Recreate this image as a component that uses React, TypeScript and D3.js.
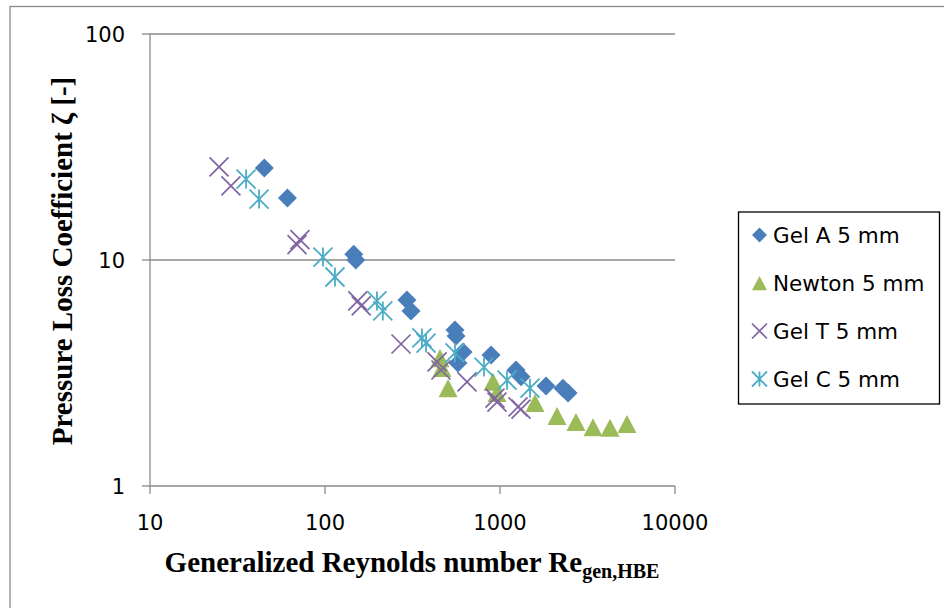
import React from "react";
import * as d3 from "d3";

const gelA_Re = [45, 61, 146, 150, 294, 310, 553, 561, 615, 575, 889, 1234, 1318, 1832, 2290, 2448];
const gelA_Z = [25.5, 18.8, 10.6, 10.0, 6.65, 5.95, 4.9, 4.61, 3.92, 3.5, 3.8, 3.26, 3.04, 2.77, 2.71, 2.58];

const newton_Re = [454, 466, 505, 912, 961, 1585, 2118, 2718, 3399, 4252, 5316];
const newton_Z = [3.68, 3.33, 2.71, 2.89, 2.58, 2.33, 2.04, 1.92, 1.82, 1.81, 1.88];

const gelT_Re = [24.8, 29.0, 71.9, 69.2, 154, 161, 272, 437, 460, 648, 936, 961, 1267, 1318];
const gelT_Z = [25.8, 21.3, 12.3, 11.7, 6.59, 6.26, 4.25, 3.54, 3.26, 2.89, 2.45, 2.35, 2.24, 2.19];

const gelC_Re = [35.4, 42.0, 97.4, 114, 198, 214, 358, 378, 553, 810, 1097, 1484];
const gelC_Z = [22.8, 18.6, 10.3, 8.41, 6.59, 5.95, 4.52, 4.29, 3.88, 3.36, 2.94, 2.71];

const xTicks = [10, 100, 1000, 10000];
const yTicks = [1, 10, 100];
const seriesNames = ["Gel A 5 mm", "Newton 5 mm", "Gel T 5 mm", "Gel C 5 mm"];

const BLUE = "#4A7EBB";
const GREEN = "#9BBB59";
const PURPLE = "#8064A2";
const TEAL = "#4BACC6";
const GRID = "#8A8A8A";

const left = 150, right = 675, top = 34, bottom = 486;
const x = d3.scaleLog().domain([10, 10000]).range([left, right]);
const y = d3.scaleLog().domain([1, 100]).range([bottom, top]);

type Kind = "diamond" | "triangle" | "x" | "star";

function Marker({ kind, cx, cy, s }: { kind: Kind; cx: number; cy: number; s: number }) {
  const h = s / 2;
  if (kind === "diamond") {
    return <path d={`M${cx},${cy - h}L${cx + h},${cy}L${cx},${cy + h}L${cx - h},${cy}Z`} fill={BLUE} />;
  }
  if (kind === "triangle") {
    const th = s * 0.95;
    return (
      <path
        d={`M${cx},${cy - th / 2}L${cx + h},${cy + th / 2}L${cx - h},${cy + th / 2}Z`}
        fill={GREEN}
      />
    );
  }
  if (kind === "x") {
    return (
      <path
        d={`M${cx - h},${cy - h}L${cx + h},${cy + h}M${cx - h},${cy + h}L${cx + h},${cy - h}`}
        stroke={PURPLE}
        strokeWidth={1.7}
        fill="none"
      />
    );
  }
  return (
    <path
      d={`M${cx - h},${cy - h}L${cx + h},${cy + h}M${cx - h},${cy + h}L${cx + h},${cy - h}M${cx},${cy - h}L${cx},${cy + h}`}
      stroke={TEAL}
      strokeWidth={1.8}
      fill="none"
    />
  );
}

const series: { re: number[]; z: number[]; kind: Kind }[] = [
  { re: gelA_Re, z: gelA_Z, kind: "diamond" },
  { re: newton_Re, z: newton_Z, kind: "triangle" },
  { re: gelT_Re, z: gelT_Z, kind: "x" },
  { re: gelC_Re, z: gelC_Z, kind: "star" },
];

export default function App() {
  const sans = "DejaVu Sans";
  const serif = "Liberation Serif, Times New Roman, serif";
  return (
    <svg
      width={944}
      height={608}
      style={{ position: "absolute", left: 0, top: 0, background: "#fff" }}
    >
      <rect x={0} y={0} width={944} height={608} fill="#fff" />
      {/* chart area border */}
      <rect x={10} y={6.5} width={960} height={640} fill="none" stroke={GRID} strokeWidth={1.3} />

      {/* gridlines */}
      {yTicks.filter((t) => t !== 1).map((t) => (
        <line key={t} x1={left} x2={right} y1={y(t)} y2={y(t)} stroke={GRID} strokeWidth={1.3} />
      ))}
      {/* axes */}
      <line x1={left} x2={left} y1={top} y2={bottom} stroke={GRID} strokeWidth={1.3} />
      <line x1={left} x2={right} y1={bottom} y2={bottom} stroke={GRID} strokeWidth={1.3} />
      {yTicks.map((t) => (
        <g key={"y" + t}>
          <line x1={left - 8} x2={left} y1={y(t)} y2={y(t)} stroke={GRID} strokeWidth={1.3} />
          <text x={125} y={y(t) + 7.5} textAnchor="end" fontFamily={sans} fontSize={21} fill="#000">
            {t}
          </text>
        </g>
      ))}
      {xTicks.map((t) => (
        <g key={"x" + t}>
          <line x1={x(t)} x2={x(t)} y1={bottom} y2={bottom + 8} stroke={GRID} strokeWidth={1.3} />
          <text x={x(t)} y={530} textAnchor="middle" fontFamily={sans} fontSize={21} fill="#000">
            {t}
          </text>
        </g>
      ))}

      {/* axis titles */}
      <text
        transform="translate(72,261) rotate(-90)"
        textAnchor="middle"
        fontFamily={serif}
        fontWeight="bold"
        fontSize={29}
        fill="#000"
      >
        Pressure Loss Coefficient ζ [-]
      </text>
      <text x={412} y={572} textAnchor="middle" fontFamily={serif} fontWeight="bold" fontSize={29} fill="#000">
        Generalized Reynolds number Re
        <tspan fontSize={20} dy={6}>
          gen,HBE
        </tspan>
      </text>

      {/* data */}
      {series.map((s, si) => (
        <g key={si}>
          {s.re.map((r, i) => (
            <Marker key={i} kind={s.kind} cx={x(r)} cy={y(s.z[i])} s={19} />
          ))}
        </g>
      ))}

      {/* legend */}
      <rect x={738.5} y={212} width={201} height={192} fill="#fff" stroke="#000" strokeWidth={1.3} />
      {seriesNames.map((n, i) => {
        const cy = 235 + i * 48;
        return (
          <g key={n}>
            <Marker kind={series[i].kind} cx={759.5} cy={cy} s={15} />
            <text x={773} y={cy + 7.7} fontFamily={sans} fontSize={21.5} fill="#000">
              {n}
            </text>
          </g>
        );
      })}
    </svg>
  );
}
